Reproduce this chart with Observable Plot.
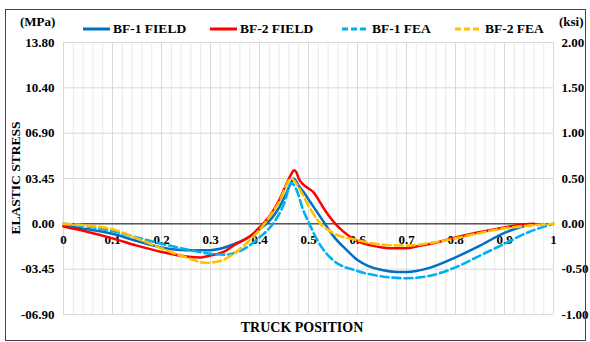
<!DOCTYPE html>
<html><head><meta charset="utf-8">
<script src="https://cdn.jsdelivr.net/npm/d3@7"></script>
<script src="https://cdn.jsdelivr.net/npm/@observablehq/plot@0.6"></script>
<style>
body{margin:0;background:#fff;}
#wrap{position:relative;width:590px;height:342px;font-family:"Liberation Serif","Times New Roman",serif;font-weight:bold;color:#000;}
#frame{position:absolute;left:5px;top:9px;width:581px;height:332px;border:1px solid #444;box-sizing:border-box;pointer-events:none;}
#header{position:absolute;left:0;top:0;width:590px;height:30px;}
.unit{position:absolute;top:14px;font-size:13px;}
.item{position:absolute;top:21px;font-size:13.5px;display:flex;align-items:center;white-space:nowrap;line-height:15px;}
.item svg{margin-right:3px;}
#chart{position:absolute;left:0;top:30px;}
#ytitle{position:absolute;left:16px;top:178px;transform:translate(-50%,-50%) rotate(-90deg);font-size:13.5px;white-space:nowrap;}
#xtitle{position:absolute;left:302px;top:328px;transform:translate(-50%,-50%);font-size:14px;white-space:nowrap;}
</style></head>
<body><div id="wrap"><div id="header"></div><div id="chart"></div>
<div id="ytitle">ELASTIC STRESS</div><div id="xtitle">TRUCK POSITION</div>
<div id="frame"></div></div>
<script>
// ---- data (x = truck position, y = stress in ksi) ----
const seriesNames = ["BF-1 FIELD", "BF-2 FIELD", "BF-1 FEA", "BF-2 FEA"];
const seriesColors = ["#0070C0", "#FF0000", "#00B0F0", "#FFC000"];
const seriesDashed = [false, false, true, true];

const tBF1Field = [0, 0.05, 0.1, 0.15, 0.2, 0.25, 0.3, 0.35, 0.38, 0.4, 0.42, 0.44, 0.455, 0.465, 0.47, 0.475, 0.48, 0.49, 0.5, 0.51, 0.52, 0.53, 0.55, 0.58, 0.6, 0.62, 0.65, 0.68, 0.7, 0.72, 0.75, 0.8, 0.85, 0.9, 0.93, 0.95];
const yBF1Field = [-0.02, -0.06, -0.11, -0.19, -0.26, -0.29, -0.29, -0.22, -0.14, -0.06, 0.03, 0.18, 0.34, 0.46, 0.5, 0.47, 0.42, 0.35, 0.27, 0.19, 0.11, 0.03, -0.13, -0.3, -0.4, -0.46, -0.51, -0.53, -0.53, -0.52, -0.48, -0.37, -0.24, -0.1, -0.04, -0.01];

const tBF2Field = [0, 0.05, 0.1, 0.15, 0.2, 0.25, 0.28, 0.3, 0.33, 0.35, 0.38, 0.4, 0.42, 0.44, 0.455, 0.465, 0.47, 0.475, 0.48, 0.49, 0.5, 0.51, 0.52, 0.53, 0.54, 0.555, 0.57, 0.6, 0.63, 0.65, 0.68, 0.7, 0.72, 0.75, 0.8, 0.85, 0.9, 0.93, 0.96];
const yBF2Field = [-0.03, -0.09, -0.16, -0.24, -0.31, -0.36, -0.37, -0.35, -0.3, -0.23, -0.14, -0.04, 0.08, 0.26, 0.44, 0.55, 0.59, 0.57, 0.5, 0.43, 0.39, 0.35, 0.27, 0.18, 0.1, 0.0, -0.08, -0.19, -0.24, -0.26, -0.27, -0.27, -0.25, -0.22, -0.15, -0.09, -0.04, -0.01, 0.0];

const tBF1FEA = [0, 0.05, 0.1, 0.15, 0.2, 0.25, 0.3, 0.33, 0.36, 0.4, 0.43, 0.45, 0.465, 0.475, 0.49, 0.5, 0.52, 0.55, 0.6, 0.65, 0.7, 0.75, 0.8, 0.85, 0.9, 0.95, 1];
const yBF1FEA = [0.0, -0.03, -0.08, -0.15, -0.22, -0.28, -0.33, -0.34, -0.3, -0.15, 0.02, 0.22, 0.45, 0.38, 0.14, 0.02, -0.2, -0.4, -0.52, -0.58, -0.6, -0.57, -0.48, -0.35, -0.22, -0.09, 0.0];

const tBF2FEA = [0, 0.05, 0.1, 0.15, 0.2, 0.25, 0.29, 0.32, 0.35, 0.38, 0.41, 0.44, 0.465, 0.48, 0.5, 0.52, 0.55, 0.6, 0.65, 0.7, 0.75, 0.8, 0.85, 0.9, 0.95, 1];
const yBF2FEA = [0.0, -0.02, -0.06, -0.16, -0.27, -0.37, -0.43, -0.41, -0.32, -0.18, 0.0, 0.24, 0.5, 0.4, 0.2, 0.03, -0.1, -0.18, -0.23, -0.24, -0.21, -0.16, -0.1, -0.05, -0.02, 0.0];

// ---- axes ----
const yTicksKsi = [-1, -0.5, 0, 0.5, 1, 1.5, 2];
const yTickLabelsMPa = ["-06.90", "-03.45", "0.00", "03.45", "06.90", "10.40", "13.80"];
const yTickLabelsKsi = ["-1.00", "-0.50", "0.00", "0.50", "1.00", "1.50", "2.00"];
const xTicks = [0, 0.1, 0.2, 0.3, 0.4, 0.5, 0.6, 0.7, 0.8, 0.9, 1];
const xTickLabels = ["0", "0.1", "0.2", "0.3", "0.4", "0.5", "0.6", "0.7", "0.8", "0.9", "1"];
const xMinorTicks = d3.range(0, 51).map(i => i / 50);

const seriesT = [tBF1Field, tBF2Field, tBF1FEA, tBF2FEA];
const seriesY = [yBF1Field, yBF2Field, yBF1FEA, yBF2FEA];
const rows = seriesNames.map((name, k) => seriesT[k].map((t, i) => ({series: name, t, v: seriesY[k][i]})));

const mpaMap = new Map(yTicksKsi.map((d, i) => [d, yTickLabelsMPa[i]]));
const ksiMap = new Map(yTicksKsi.map((d, i) => [d, yTickLabelsKsi[i]]));

const fontFam = '"Liberation Serif","Times New Roman",serif';

const chart = Plot.plot({
  width: 590, height: 312,
  marginTop: 12, marginBottom: 28, marginLeft: 63, marginRight: 37,
  x: {domain: [0, 1], axis: null},
  y: {domain: [-1, 2], axis: null},
  style: {fontFamily: fontFam, fontSize: "13px", fontWeight: "bold", color: "#000", background: "transparent", overflow: "visible"},
  marks: [
    Plot.gridX(xMinorTicks, {stroke: "#e9e9e9", strokeOpacity: 1}),
    Plot.gridX(xTicks, {stroke: "#d9d9d9", strokeOpacity: 1}),
    Plot.gridY(yTicksKsi, {stroke: "#d9d9d9", strokeOpacity: 1}),
    Plot.ruleY([0], {stroke: "#595959", strokeWidth: 1.5}),
    Plot.axisY({anchor: "left", ticks: yTicksKsi, tickSize: 0, tickPadding: 9, tickFormat: d => mpaMap.get(d), label: null}),
    Plot.axisY({anchor: "right", ticks: yTicksKsi, tickSize: 0, tickPadding: 8, tickFormat: d => ksiMap.get(d), label: null}),
    Plot.text(xTicks, {x: d => d, y: 0, text: (d, i) => xTickLabels[i], dy: 16}),
    ...rows.map((data, k) => Plot.line(data, {
      x: "t", y: "v", stroke: seriesColors[k], strokeWidth: seriesDashed[k] ? 2.6 : 2.5,
      strokeDasharray: seriesDashed[k] ? "8,4" : null, curve: "monotone-x"
    }))
  ]
});
document.getElementById("chart").appendChild(chart);

// ---- header: units + legend ----
const header = document.getElementById("header");
const mpa = document.createElement("div"); mpa.className = "unit"; mpa.style.left = "20px"; mpa.textContent = "(MPa)"; header.appendChild(mpa);
const ksi = document.createElement("div"); ksi.className = "unit"; ksi.style.left = "559px"; ksi.textContent = "(ksi)"; header.appendChild(ksi);
const legendLeft = [83, 210, 342, 455];
seriesNames.forEach((name, k) => {
  const it = document.createElement("div");
  it.className = "item";
  it.style.left = legendLeft[k] + "px";
  it.innerHTML = `<svg width="27" height="6"><line x1="0" y1="3" x2="27" y2="3" stroke="${seriesColors[k]}" stroke-width="3" ${seriesDashed[k] ? 'stroke-dasharray="6,3"' : ''}/></svg><span>${name}</span>`;
  header.appendChild(it);
});
</script>
</body></html>
